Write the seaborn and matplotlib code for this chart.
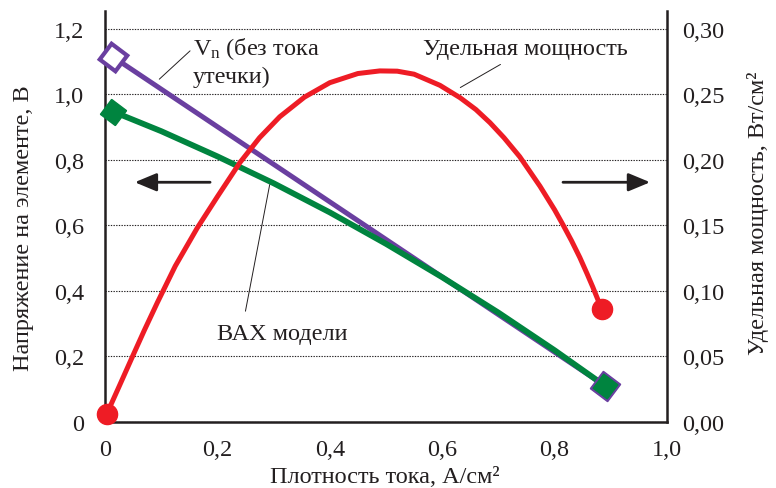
import numpy as np
import pandas as pd
import seaborn as sns
import matplotlib.pyplot as plt

# current density, A/cm2 and cell voltage, V
purple_x = [0.014, 0.890]
purple_v = [1.115, 0.110]

green_x = [0.014, 0.1, 0.2, 0.3, 0.4, 0.5, 0.6, 0.7, 0.8, 0.890]
green_v = [0.948, 0.888, 0.811, 0.729, 0.640, 0.544, 0.442, 0.334, 0.219, 0.110]

# power density, W/cm2
red_x = [0.003, 0.025, 0.05, 0.07, 0.093, 0.125, 0.164, 0.20, 0.24, 0.275,
         0.311, 0.355, 0.40, 0.45, 0.489, 0.52, 0.55, 0.596, 0.632, 0.66,
         0.685, 0.71, 0.738, 0.774, 0.80, 0.815, 0.83, 0.845, 0.858, 0.868,
         0.876, 0.884]
red_p = [0.006, 0.027, 0.051, 0.070, 0.091, 0.119, 0.148, 0.172, 0.198, 0.217,
         0.233, 0.248, 0.259, 0.266, 0.268, 0.2678, 0.2655, 0.257, 0.2475, 0.2385,
         0.2285, 0.217, 0.2025, 0.180, 0.162, 0.1505, 0.1385, 0.1255, 0.113, 0.103,
         0.0945, 0.086]

x_ticks = [0, 0.2, 0.4, 0.6, 0.8, 1.0]
x_labels = ['0', '0,2', '0,4', '0,6', '0,8', '1,0']
v_ticks = [0, 0.2, 0.4, 0.6, 0.8, 1.0, 1.2]
v_labels = ['0', '0,2', '0,4', '0,6', '0,8', '1,0', '1,2']
p_ticks = [0, 0.05, 0.10, 0.15, 0.20, 0.25, 0.30]
p_labels = ['0,00', '0,05', '0,10', '0,15', '0,20', '0,25', '0,30']

PURPLE = '#6a3fa0'
GREEN = '#00843f'
RED = '#ee1c25'
INK = '#231f20'
FS = 17.5

sns.set_style("white")
plt.rcParams['font.family'] = ['Liberation Serif', 'DejaVu Serif']
plt.rcParams['mathtext.fontset'] = 'custom'
plt.rcParams['mathtext.rm'] = 'Liberation Serif'
plt.rcParams['mathtext.it'] = 'Liberation Serif:italic'

fig = plt.figure(figsize=(7.76, 4.89), dpi=100)
ax = fig.add_axes([0.1353, 0.135, 0.7242, 0.8405])
ax2 = ax.twinx()

df_p = pd.DataFrame({'x': purple_x, 'v': purple_v})
df_g = pd.DataFrame({'x': green_x, 'v': green_v})
df_r = pd.DataFrame({'x': red_x, 'p': red_p})

sns.lineplot(data=df_p, x='x', y='v', ax=ax, color=PURPLE, lw=3.6, estimator=None)
sns.lineplot(data=df_g, x='x', y='v', ax=ax, color=GREEN, lw=4.2, estimator=None)
sns.lineplot(data=df_r, x='x', y='p', ax=ax2, color=RED, lw=3.6, estimator=None)

# end markers
ax.plot(purple_x[0], purple_v[0], marker=(4, 0, 8), ms=20, mfc='white', mec=PURPLE,
        mew=3, clip_on=False, zorder=5)
ax.plot(purple_x[-1], purple_v[-1], marker=(4, 0, 8), ms=22, mfc=PURPLE, mec=PURPLE,
        mew=1, clip_on=False, zorder=5)
ax.plot(green_x[0], green_v[0], marker=(4, 0, 8), ms=19, mfc=GREEN, mec=GREEN,
        mew=1, clip_on=False, zorder=6)
ax.plot(green_x[-1], green_v[-1], marker=(4, 0, 8), ms=18, mfc=GREEN, mec=GREEN,
        mew=1, clip_on=False, zorder=6)
ax2.plot([red_x[0], red_x[-1]], [red_p[0], red_p[-1]], 'o', ms=14.5, color=RED,
         clip_on=False, zorder=6)

# axes
ax.set_xlim(0, 1.0)
ax.set_ylim(0, 1.255)
ax2.set_ylim(0, 1.255 * 0.25)
ax.set_xticks(x_ticks, x_labels)
ax.set_yticks(v_ticks, v_labels)
ax2.set_yticks(p_ticks, p_labels)
ax.yaxis.grid(True, linestyle=(0, (1.2, 1.2)), color=INK, lw=0.8)
ax.set_axisbelow(True)

for s in ['top', 'right']:
    ax.spines[s].set_visible(False)
for s in ['top', 'left', 'bottom']:
    ax2.spines[s].set_visible(False)
for a, sides in [(ax, ['left', 'bottom']), (ax2, ['right'])]:
    for s in sides:
        a.spines[s].set_color(INK)
        a.spines[s].set_linewidth(1.8)

ax.tick_params(axis='x', direction='in', length=5, width=1, color=INK, pad=12,
               labelsize=FS, labelcolor=INK)
ax.tick_params(axis='y', length=0, pad=15, labelsize=FS, labelcolor=INK)
ax2.tick_params(axis='y', length=0, pad=11, labelsize=FS, labelcolor=INK)

ax.set_xlabel('Плотность тока, А/см²', fontsize=FS, color=INK, va='baseline')
ax.set_ylabel('Напряжение на элементе, В', fontsize=FS, color=INK)
ax2.set_ylabel('Удельная мощность, Вт/см²', fontsize=FS, color=INK)
ax.xaxis.set_label_coords(0.498, -0.146)
ax.yaxis.set_label_coords(-0.126, 0.474)
ax2.yaxis.set_label_coords(1.142, 0.511)

# annotations
ax.text(0.157, 1.124, 'V$_{\\rm n}$ (без тока', fontsize=FS, color=INK, va='baseline')
ax.text(0.157, 1.038, 'утечки)', fontsize=FS, color=INK, va='baseline')
ax.annotate('', xy=(0.093, 1.041), xytext=(0.155, 1.139),
            arrowprops=dict(arrowstyle='-', lw=0.7, color=INK))
ax.text(0.566, 1.124, 'Удельная мощность', fontsize=FS, color=INK, va='baseline')
ax.annotate('', xy=(0.628, 1.017), xytext=(0.708, 1.096),
            arrowprops=dict(arrowstyle='-', lw=0.7, color=INK))
ax.text(0.199, 0.253, 'ВАХ модели', fontsize=FS, color=INK, va='baseline')
ax.annotate('', xy=(0.294, 0.733), xytext=(0.249, 0.33),
            arrowprops=dict(arrowstyle='-', lw=0.7, color=INK))

arrow_style = dict(arrowstyle='-|>,head_length=0.6,head_width=0.25', color=INK,
                   lw=2, mutation_scale=22, shrinkA=0, shrinkB=0)
ax2.annotate('', xy=(0.053, 0.183), xytext=(0.187, 0.183), arrowprops=arrow_style)
ax2.annotate('', xy=(0.97, 0.183), xytext=(0.815, 0.183), arrowprops=arrow_style)

ax.set_zorder(ax2.get_zorder() - 1)
ax2.patch.set_visible(False)

fig.savefig('out.png', dpi=100)
